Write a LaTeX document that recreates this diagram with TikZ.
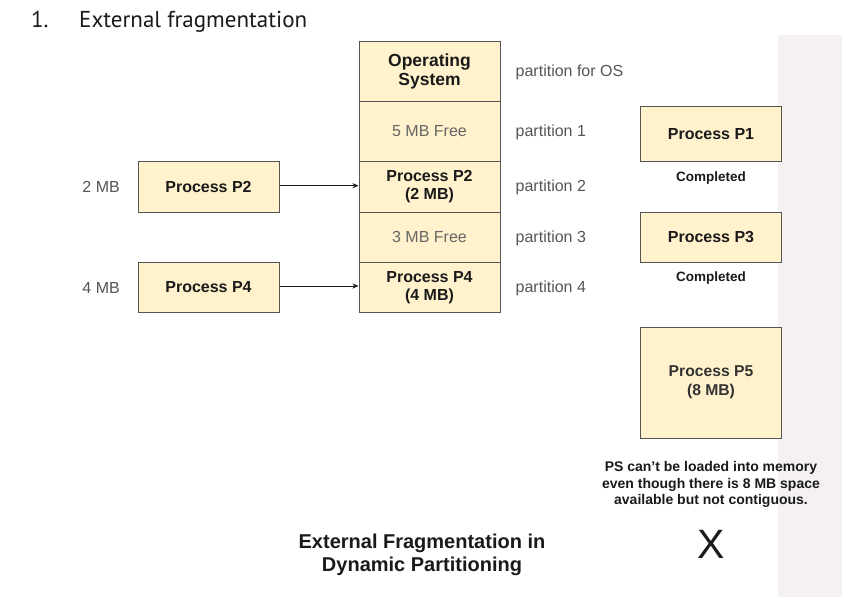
\documentclass[tikz,border=0pt]{standalone}
\usepackage{fontspec}
\setmainfont{Liberation Sans}
\newfontfamily\headfont{PT Sans}
\usetikzlibrary{arrows.meta}
\definecolor{boxfill}{HTML}{FFF2CC}
\definecolor{boxline}{HTML}{555555}
\definecolor{labgray}{HTML}{555555}
\definecolor{freegray}{HTML}{666666}
\definecolor{band}{HTML}{F6F1F1}
\definecolor{ink}{HTML}{1A1A1A}
\definecolor{softink}{HTML}{333333}
\tikzset{
  membox/.style={draw=boxline, fill=boxfill, line width=1pt, inner sep=0pt,
    minimum width=141pt, align=center, text=ink,
    font=\fontsize{16}{18}\selectfont\bfseries},
  freebox/.style={membox, text=freegray, font=\fontsize{16}{18}\selectfont},
  partlab/.style={anchor=west, inner sep=0pt, text=labgray,
    font=\fontsize{16}{18}\selectfont},
  sizelab/.style={anchor=east, inner sep=0pt, text=labgray,
    font=\fontsize{16}{18}\selectfont},
  donelab/.style={inner sep=0pt, text=ink, font=\fontsize{13.5}{16}\selectfont\bfseries},
  conn/.style={-{Stealth[length=6pt,width=5pt]}, line width=0.8pt, draw=ink}
}
\begin{document}
\begin{tikzpicture}[x=1pt,y=-1pt]
\useasboundingbox (0,0) rectangle (848,600);
\fill[white] (0,0) rectangle (848,600);
\fill[band] (778,34.7) rectangle (841.7,596.7);

% heading
\node[anchor=base west, inner sep=0pt, font=\headfont\fontsize{23}{27}\selectfont, text=ink] (hnum) at (31,27) {1.};
\node[anchor=base west, inner sep=0pt, font=\headfont\fontsize{23}{27}\selectfont, text=ink] (head) at (79,27) {External fragmentation};

% memory column
\node[membox, minimum height=59.3pt, font=\fontsize{17.5}{19.5}\selectfont\bfseries] (os) at (429.5,71.35) {Operating\\System};
\node[freebox, minimum height=60.7pt] (p1free) at (429.5,131.35) {5 MB Free};
\node[membox, minimum height=50.3pt] (mp2) at (429.5,186.85) {Process P2\\(2 MB)};
\node[freebox, minimum height=50.7pt] (p3free) at (429.5,237.35) {3 MB Free};
\node[membox, minimum height=50pt] (mp4) at (429.5,287.7) {Process P4\\(4 MB)};

% partition labels
\node[partlab] (lOS) at (515.5,72) {partition for OS};
\node[partlab] (l1) at (515.5,132) {partition 1};
\node[partlab] (l2) at (515.5,187.5) {partition 2};
\node[partlab] (l3) at (515.5,238) {partition 3};
\node[partlab] (l4) at (515.5,288.5) {partition 4};

% left processes
\node[membox, minimum height=50.3pt] (p2) at (208.5,186.85) {Process P2};
\node[membox, minimum height=50.7pt] (p4) at (208.5,287.35) {Process P4};
\node[sizelab] (s2) at (120,187) {2 MB};
\node[sizelab] (s4) at (120,288) {4 MB};
\draw[conn] (p2.east |- 0,185.7) -- (mp2.west |- 0,185.7);
\draw[conn] (p4.east |- 0,286) -- (mp4.west |- 0,286);

% right processes
\node[membox, minimum width=141.7pt, minimum height=55.7pt] (rp1) at (711,133.85) {Process P1};
\node[donelab] (c1) at (711,178) {Completed};
\node[membox, minimum width=141.7pt, minimum height=50.3pt] (rp3) at (711,237.15) {Process P3};
\node[donelab] (c3) at (711,278.5) {Completed};
\node[membox, minimum width=141.7pt, minimum height=111pt, text=softink, font=\fontsize{15.7}{19}\selectfont\bfseries] (rp5) at (711,382.5) {Process P5\\(8 MB)};

\node[inner sep=0pt, align=center, text=ink, font=\fontsize{14}{16.5}\selectfont\bfseries] (note) at (711,484.5)
  {PS can't be loaded into memory\\even though there is 8 MB space\\available but not contiguous.};
\node[inner sep=0pt, text=ink, font=\fontsize{41}{45}\selectfont] (cross) at (711,544) {X};

% title
\node[inner sep=0pt, align=center, text=ink, font=\fontsize{20}{23}\selectfont\bfseries] (title) at (422,555)
  {External Fragmentation in\\Dynamic Partitioning};
\end{tikzpicture}
\end{document}
